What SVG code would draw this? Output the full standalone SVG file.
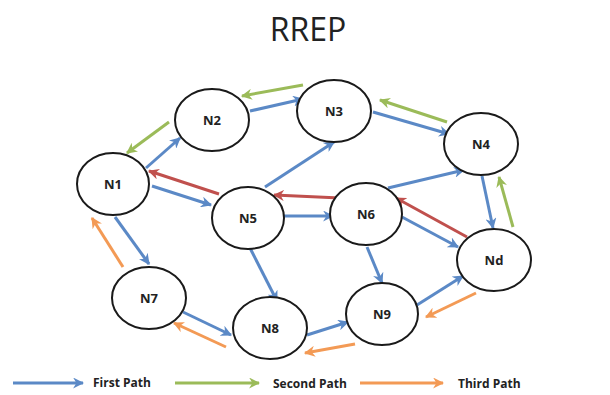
<svg xmlns="http://www.w3.org/2000/svg" width="610" height="395" viewBox="0 0 610 395">
<style>
.node ellipse{fill:#fff;stroke:#1a1a1a;stroke-width:2}
.node text,.lbl{font-family:"Open Sans","Liberation Sans",sans-serif;font-weight:bold;font-size:13px;fill:#222;text-anchor:middle}
.lbl{font-size:12px;text-anchor:start}
.b{stroke:#5B89C6;stroke-width:3;fill:none;marker-end:url(#mb)}
.g{stroke:#9BBB59;stroke-width:3;fill:none;marker-end:url(#mg)}
.o{stroke:#F39A55;stroke-width:3;fill:none;marker-end:url(#mo)}
.r{stroke:#C0504D;stroke-width:3;fill:none;marker-end:url(#mr)}
.title{font-family:"Open Sans","Liberation Sans",sans-serif;font-size:32px;fill:#222;text-anchor:middle}
</style>
<defs>
<marker id="mb" viewBox="0 0 10 10" markerUnits="userSpaceOnUse" markerWidth="11" markerHeight="11" refX="9" refY="5" orient="auto"><path d="M0,0 L10,5 L0,10 L3,5 z" fill="#5B89C6"/></marker>
<marker id="mg" viewBox="0 0 10 10" markerUnits="userSpaceOnUse" markerWidth="11" markerHeight="11" refX="9" refY="5" orient="auto"><path d="M0,0 L10,5 L0,10 L3,5 z" fill="#9BBB59"/></marker>
<marker id="mo" viewBox="0 0 10 10" markerUnits="userSpaceOnUse" markerWidth="11" markerHeight="11" refX="9" refY="5" orient="auto"><path d="M0,0 L10,5 L0,10 L3,5 z" fill="#F39A55"/></marker>
<marker id="mr" viewBox="0 0 10 10" markerUnits="userSpaceOnUse" markerWidth="11" markerHeight="11" refX="9" refY="5" orient="auto"><path d="M0,0 L10,5 L0,10 L3,5 z" fill="#C0504D"/></marker>
</defs>
<rect width="610" height="395" fill="#fff"/>
<text class="title" x="308" y="41">RREP</text>
<g id="connectors">
<line class="b" x1="146" y1="168" x2="180" y2="138"/>
<line class="b" x1="250" y1="111" x2="303" y2="99"/>
<line class="b" x1="152" y1="186" x2="211" y2="205"/>
<line class="b" x1="265" y1="187" x2="334" y2="142"/>
<line class="b" x1="373" y1="112" x2="449" y2="134"/>
<line class="b" x1="284" y1="216" x2="333" y2="216"/>
<line class="b" x1="388" y1="188" x2="464" y2="170"/>
<line class="b" x1="482" y1="176" x2="493" y2="228"/>
<line class="b" x1="402" y1="217" x2="458" y2="247"/>
<line class="b" x1="367" y1="247" x2="382" y2="283"/>
<line class="b" x1="417" y1="305" x2="463" y2="276"/>
<line class="b" x1="307" y1="335" x2="348" y2="322"/>
<line class="b" x1="250" y1="248" x2="277" y2="301"/>
<line class="b" x1="115" y1="217" x2="149" y2="264"/>
<line class="b" x1="183" y1="312" x2="231" y2="335"/>
<line class="r" x1="219" y1="194" x2="149" y2="171"/>
<line class="r" x1="340" y1="198" x2="274" y2="195"/>
<line class="r" x1="467" y1="237" x2="396" y2="198"/>
<line class="g" x1="303" y1="85" x2="242" y2="96"/>
<line class="g" x1="169" y1="122" x2="127" y2="153"/>
<line class="g" x1="447" y1="122" x2="380" y2="100"/>
<line class="g" x1="513" y1="227" x2="499" y2="177"/>
<line class="o" x1="123" y1="267" x2="92" y2="218"/>
<line class="o" x1="226" y1="347" x2="174" y2="323"/>
<line class="o" x1="355" y1="344" x2="305" y2="353"/>
<line class="o" x1="476" y1="293" x2="426" y2="317"/>
<line class="b" x1="13" y1="383" x2="83" y2="383"/>
<line class="g" x1="175" y1="383" x2="259" y2="383"/>
<line class="o" x1="360" y1="383" x2="443" y2="383"/>
</g>
<g id="N1" class="node"><ellipse cx="113" cy="184" rx="36" ry="31"/><text x="113" y="189">N1</text></g>
<g id="N2" class="node"><ellipse cx="212" cy="120" rx="37" ry="31"/><text x="212" y="125">N2</text></g>
<g id="N3" class="node"><ellipse cx="334" cy="111" rx="37" ry="31"/><text x="334" y="116">N3</text></g>
<g id="N4" class="node"><ellipse cx="481" cy="144" rx="37" ry="31"/><text x="481" y="149">N4</text></g>
<g id="N5" class="node"><ellipse cx="248" cy="218" rx="36" ry="31"/><text x="248" y="223">N5</text></g>
<g id="N6" class="node"><ellipse cx="366" cy="214" rx="36" ry="31"/><text x="366" y="219">N6</text></g>
<g id="Nd" class="node"><ellipse cx="494" cy="260" rx="37" ry="31"/><text x="494" y="265">Nd</text></g>
<g id="N7" class="node"><ellipse cx="149" cy="298" rx="37" ry="31"/><text x="149" y="303">N7</text></g>
<g id="N8" class="node"><ellipse cx="270" cy="328" rx="37" ry="31"/><text x="270" y="333">N8</text></g>
<g id="N9" class="node"><ellipse cx="382" cy="314" rx="36" ry="31"/><text x="382" y="319">N9</text></g>
<text class="lbl" x="93" y="387">First Path</text>
<text class="lbl" x="273" y="388">Second Path</text>
<text class="lbl" x="458" y="388">Third Path</text>
</svg>
